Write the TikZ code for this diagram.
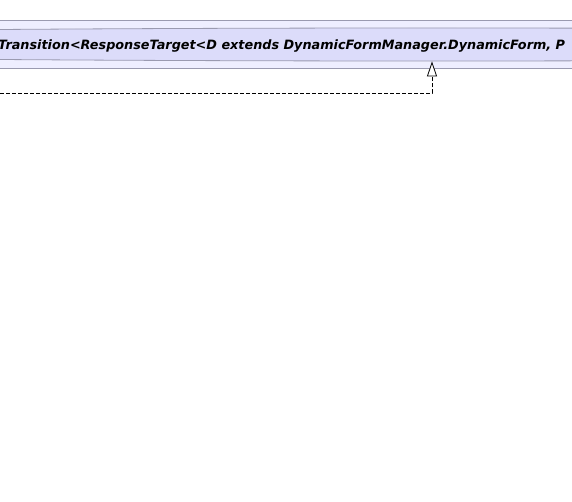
\documentclass[tikz,border=0pt]{standalone}
\usepackage{fontspec}
\setsansfont{DejaVu Sans}
\usetikzlibrary{positioning, arrows.meta, shapes.geometric}
\definecolor{umlborder}{HTML}{9A9AB0}
\definecolor{umlouter}{HTML}{EEEEFF}
\definecolor{umlinner}{HTML}{DCDCFA}

\begin{document}
\begin{tikzpicture}[
  x=1pt, y=-1pt,
  classbox/.style={
    rectangle, draw=umlborder, fill=umlouter, line width=0.8pt,
    minimum width=700pt, minimum height=48pt, inner sep=0pt
  },
  classshape/.style={
    ellipse, draw=umlborder, fill=umlinner, line width=0.8pt,
    minimum width=2072pt, minimum height=33pt, inner sep=0pt
  },
  classlabel/.style={
    font=\sffamily\bfseries\itshape\fontsize{12.8}{15}\selectfont,
    inner sep=0pt, anchor=base west
  },
  realize/.style={
    -{Triangle[length=15pt, width=10pt, fill=white]},
    dash pattern=on 4pt off 2pt, line width=0.8pt
  },
]
\useasboundingbox (0,0) rectangle (572,502);
\clip (0,0) rectangle (572,502);

% --- Class box ---
\node[classbox] (classbox) at (286,44) {};
\node[classshape] (classshape) at (432,44.5) {};
\node[classlabel] (classname) at (-2,49.5)
  {Transition<ResponseTarget<D extends DynamicFormManager.DynamicForm, P};

% --- Realization ---
\coordinate (implsrc) at (0,93.5);
\coordinate (implbend) at (432,93.5);
\draw[realize] (implsrc) -- (implbend) -- (classshape.south);

\end{tikzpicture}
\end{document}
